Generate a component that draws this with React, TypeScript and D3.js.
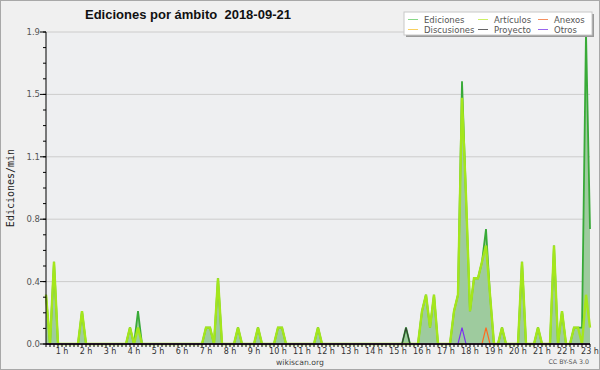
import React from "react";
import { scaleLinear, area, line, range, curveLinear } from "d3";

// one point every 10 minutes, from 00:20 to 23:00
const START_MINUTE = 20;
const STEP_MINUTES = 10;

const ediciones = [
  0.3, 0, 0.5, 0, 0, 0, 0, 0, 0, 0.2, 0, 0, 0, 0, 0, 0, 0, 0, 0, 0,
  0, 0.1, 0, 0.2, 0, 0, 0, 0, 0, 0, 0, 0, 0, 0, 0, 0, 0, 0, 0, 0,
  0.1, 0.1, 0, 0.4, 0, 0, 0, 0, 0.1, 0, 0, 0, 0, 0.1, 0, 0, 0, 0, 0.1, 0.1,
  0, 0, 0, 0, 0, 0, 0, 0, 0.1, 0, 0, 0, 0, 0, 0, 0, 0, 0, 0, 0,
  0, 0, 0, 0, 0, 0, 0, 0, 0, 0, 0.1, 0, 0, 0, 0.2, 0.3, 0.1, 0.3, 0, 0,
  0, 0, 0.2, 0.3, 1.6, 0.9, 0.2, 0.4, 0.4, 0.5, 0.7, 0.3, 0, 0, 0.1, 0, 0, 0, 0, 0.5,
  0, 0, 0, 0.1, 0, 0, 0, 0.6, 0, 0.2, 0, 0, 0.1, 0.1, 0.1, 1.9, 0.7,
];

const articulos = [
  0.3, 0, 0.5, 0, 0, 0, 0, 0, 0, 0.2, 0, 0, 0, 0, 0, 0, 0, 0, 0, 0,
  0, 0.1, 0, 0.1, 0, 0, 0, 0, 0, 0, 0, 0, 0, 0, 0, 0, 0, 0, 0, 0,
  0.1, 0.1, 0, 0.4, 0, 0, 0, 0, 0.1, 0, 0, 0, 0, 0.1, 0, 0, 0, 0, 0.1, 0.1,
  0, 0, 0, 0, 0, 0, 0, 0, 0.1, 0, 0, 0, 0, 0, 0, 0, 0, 0, 0, 0,
  0, 0, 0, 0, 0, 0, 0, 0, 0, 0, 0, 0, 0, 0, 0.2, 0.3, 0.1, 0.3, 0, 0,
  0, 0, 0.2, 0.3, 1.5, 0.9, 0.2, 0.4, 0.4, 0.5, 0.6, 0.3, 0, 0, 0.1, 0, 0, 0, 0, 0.5,
  0, 0, 0, 0.1, 0, 0, 0, 0.6, 0, 0.2, 0, 0, 0.1, 0.1, 0, 0.3, 0.1,
];

// sparse series: [point index, value]
const anexos = [[110, 0.1]];
const discusiones: number[][] = [];
const proyecto = [[90, 0.1]];
const otros = [[104, 0.1]];

const hourLabels = range(1, 24);
const yMax = 1.9;

const legend = [
  { name: "Ediciones", color: "#88d888", col: 0, row: 0 },
  { name: "Artículos", color: "#ccf066", col: 1, row: 0 },
  { name: "Anexos", color: "#f59060", col: 2, row: 0 },
  { name: "Discusiones", color: "#f8d060", col: 0, row: 1 },
  { name: "Proyecto", color: "#666666", col: 1, row: 1 },
  { name: "Otros", color: "#9966ee", col: 2, row: 1 },
];

const W = 600;
const H = 370;
const M = { left: 46, right: 590, top: 32, bottom: 344 };

function expand(sparse: number[][]) {
  const v = ediciones.map(() => 0);
  sparse.forEach(([i, val]) => (v[i] = val));
  return v;
}

export default function App() {
  const minutes = ediciones.map((_, i) => START_MINUTE + i * STEP_MINUTES);
  const x = scaleLinear()
    .domain([minutes[0], minutes[minutes.length - 1]])
    .range([M.left, M.right]);
  const y = scaleLinear().domain([0, yMax]).range([M.bottom, M.top]);

  const fillArea = area<number>()
    .x((_, i) => x(minutes[i]))
    .y0(y(0))
    .y1((d) => y(d))
    .curve(curveLinear);
  const path = line<number>()
    .x((_, i) => x(minutes[i]))
    .y((d) => y(d));

  const majors = range(0, 6).map((i) => (yMax * i) / 5);
  const minors = range(0, 21).map((i) => (yMax * i) / 20);

  const small = [
    { data: expand(discusiones), color: "#f0c020" },
    { data: expand(anexos), color: "#ff6a20" },
    { data: expand(proyecto), color: "#334433" },
    { data: expand(otros), color: "#7a33ee" },
  ];

  return (
    <svg
      width={W}
      height={H}
      style={{ position: "absolute", left: 0, top: 0 }}
      fontFamily="DejaVu Sans"
    >
      <rect x={0.5} y={0.5} width={W - 1} height={H - 1} fill="#f0f0f0" stroke="#a8a8a8" />
      <rect x={M.left} y={M.top} width={M.right - M.left} height={M.bottom - M.top} fill="#eeeff1" />

      {majors.map((v, i) => (
        <line key={"g" + i} x1={M.left} x2={M.right} y1={y(v)} y2={y(v)} stroke="#cccccc" />
      ))}

      <path d={fillArea(ediciones) || ""} fill="#9ecb9e" />
      <path d={path(ediciones) || ""} fill="none" stroke="#38aa38" strokeWidth={1.8} />
      <path d={path(articulos) || ""} fill="none" stroke="#a4e61c" strokeWidth={2.4} />
      {small.map((s, i) => (
        <path key={"s" + i} d={path(s.data) || ""} fill="none" stroke={s.color} strokeWidth={1.2} />
      ))}

      {/* y axis */}
      <line x1={M.left} x2={M.left} y1={M.top} y2={M.bottom} stroke="#000" />
      {minors.map((v, i) => (
        <line key={"m" + i} x1={M.left - 3} x2={M.left} y1={y(v)} y2={y(v)} stroke="#000" />
      ))}
      {majors.map((v, i) => (
        <g key={"t" + i}>
          <line x1={M.left - 6} x2={M.left} y1={y(v)} y2={y(v)} stroke="#000" />
          <text x={M.left - 6} y={y(v) + 3} textAnchor="end" fontSize={8.5} fill="#555">
            {v.toFixed(1)}
          </text>
        </g>
      ))}
      <text
        transform={`translate(14,${(M.top + M.bottom) / 2}) rotate(-90)`}
        textAnchor="middle"
        fontFamily="DejaVu Sans Mono"
        fontSize={10}
        fill="#222"
      >
        Ediciones/min
      </text>

      {/* x axis */}
      <line x1={M.left} x2={M.right} y1={M.bottom} y2={M.bottom} stroke="#000" strokeWidth={1.5} />
      {minutes.map((m, i) => (
        <line key={"x" + i} x1={x(m)} x2={x(m)} y1={M.bottom} y2={M.bottom + 3} stroke="#000" />
      ))}
      {hourLabels.map((h) => (
        <text key={"h" + h} x={x(h * 60)} y={353.5} textAnchor="middle" fontSize={8} fill="#333">
          {h} h
        </text>
      ))}

      <text x={85} y={19} fontFamily="Liberation Sans" fontWeight="bold" fontSize={13} fill="#111">
        Ediciones por ámbito{"\u00a0\u00a0"}2018-09-21
      </text>

      {/* legend */}
      <rect x={406} y={14} width={188} height={23} fill="#999" />
      <rect x={404} y={12} width={188} height={23} fill="#fff" stroke="#c8c8c8" />
      {legend.map((l) => {
        const lx = 408 + l.col * 70 + (l.col === 2 ? -10 : 0);
        const ly = 19.5 + l.row * 10;
        return (
          <g key={l.name}>
            <line x1={lx} x2={lx + 10} y1={ly} y2={ly} stroke={l.color} />
            <text x={lx + 16} y={ly + 3} fontSize={8.5} fill="#555">
              {l.name}
            </text>
          </g>
        );
      })}

      <text x={300} y={364.5} textAnchor="middle" fontSize={7.7} fill="#444">
        wikiscan.org
      </text>
      <text x={589} y={364} textAnchor="end" fontSize={6.3} fill="#555">
        CC BY-SA 3.0
      </text>
    </svg>
  );
}
